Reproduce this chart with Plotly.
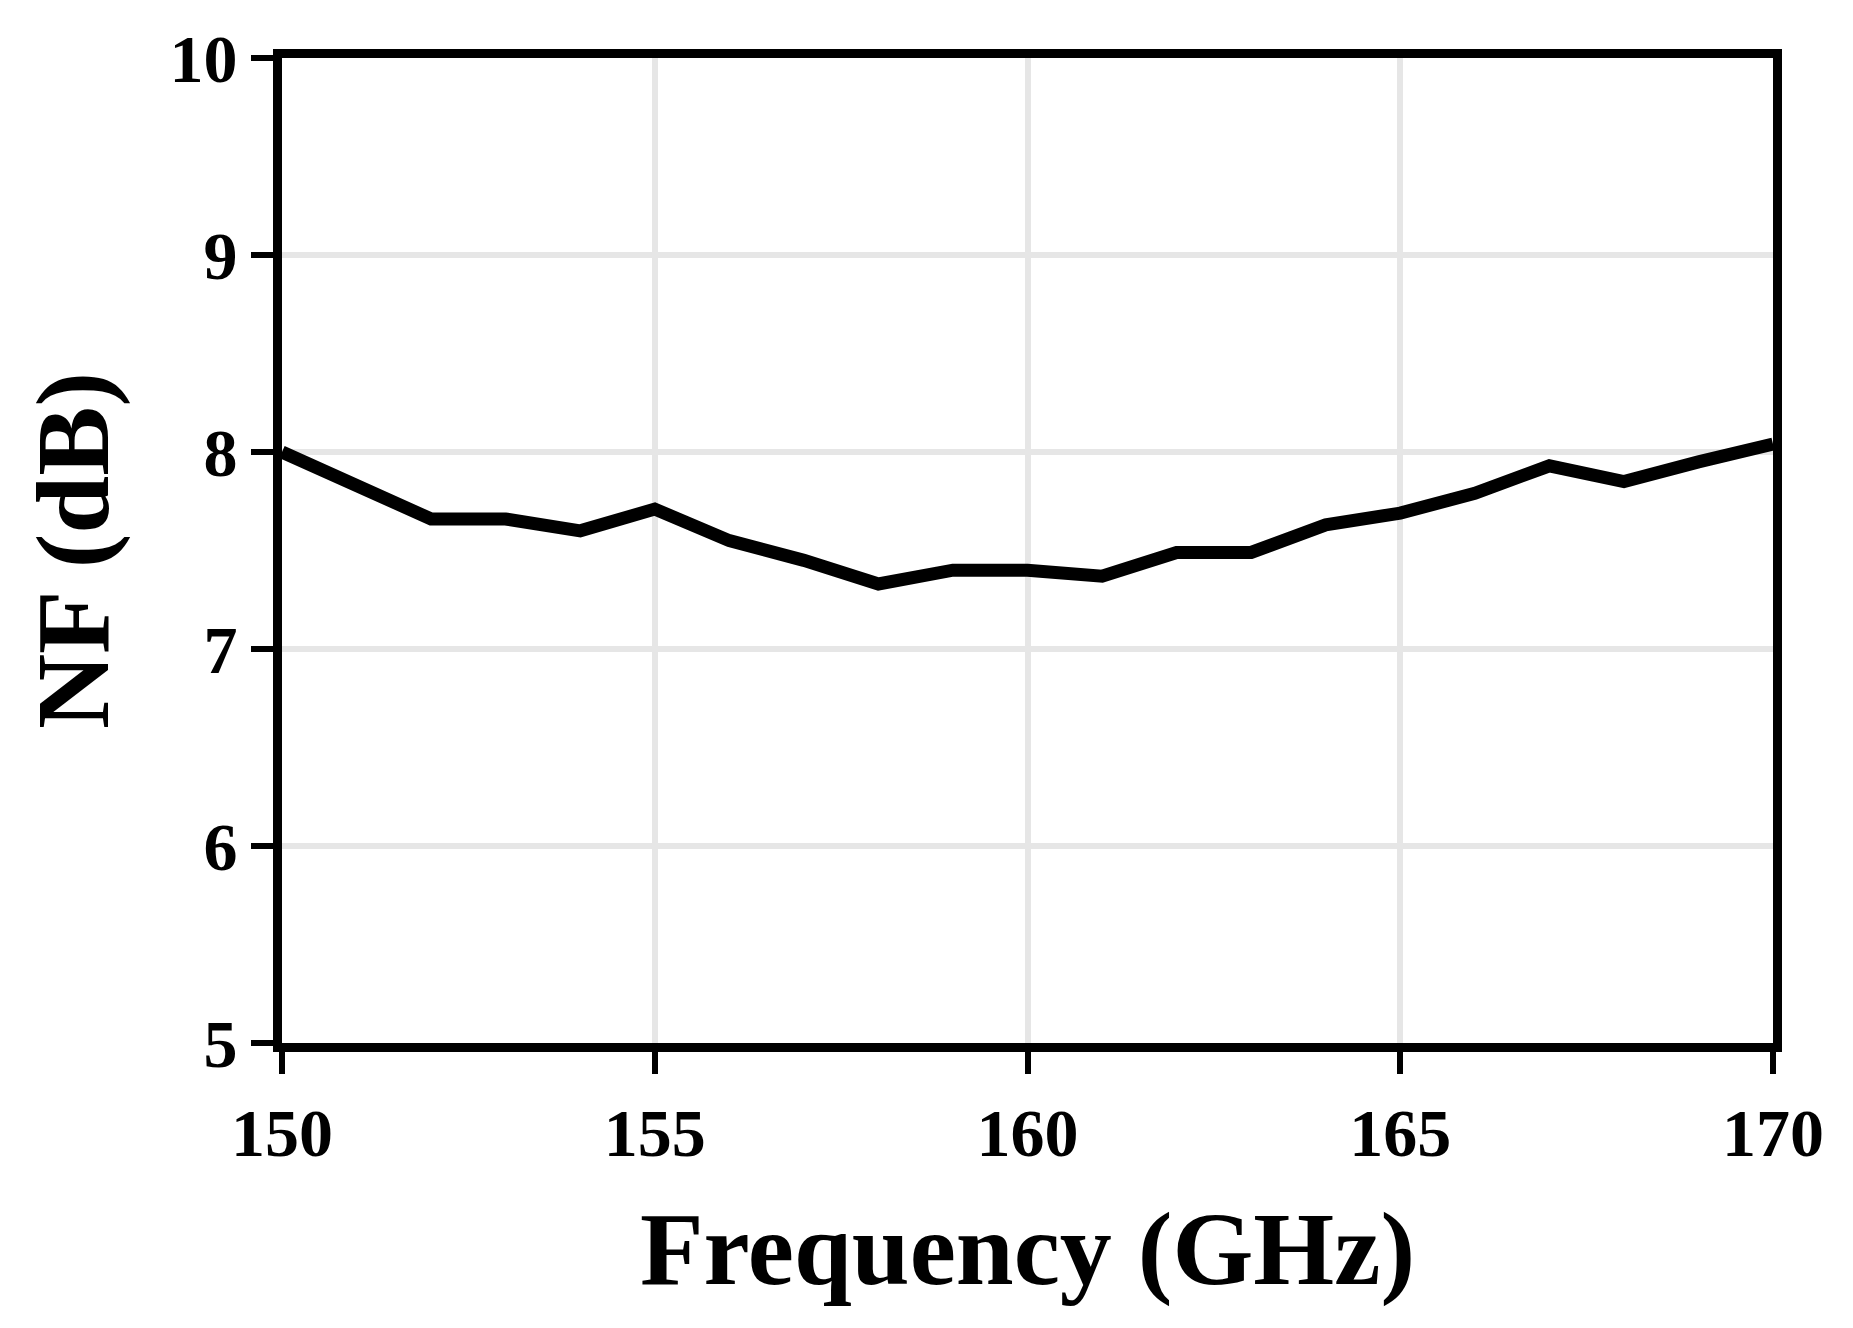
import plotly.graph_objects as go

freq = list(range(150, 171))
nf = [8.00, 7.83, 7.66, 7.66, 7.60, 7.71, 7.55, 7.45, 7.33, 7.40, 7.40, 7.37, 7.49, 7.49, 7.63, 7.69, 7.79, 7.93, 7.85, 7.95, 8.04]
xticks = [150, 155, 160, 165, 170]
yticks = [5, 6, 7, 8, 9, 10]

fig = go.Figure(go.Scatter(x=freq, y=nf, mode="lines", line=dict(color="black", width=13)))
font = dict(family="Liberation Serif", color="black", weight="bold")
ax = dict(showline=True, linecolor="black", linewidth=9, mirror=True, ticks="outside",
          ticklen=22, tickwidth=6, tickcolor="black", showgrid=True, gridcolor="#e6e6e6",
          gridwidth=6, zeroline=False, tickfont=dict(size=68, **font))
fig.update_layout(
    width=1853, height=1328, paper_bgcolor="white", plot_bgcolor="white",
    margin=dict(l=274, r=88, t=50, b=293), showlegend=False,
    xaxis=dict(range=[150, 170], tickvals=xticks,
               title=dict(text="Frequency (GHz)", font=dict(size=104, **font), standoff=45), **ax),
    yaxis=dict(range=[5, 10], tickvals=yticks,
               title=dict(text="NF (dB)", font=dict(size=104, **font), standoff=30), **ax),
)
fig.write_html("out.html")
